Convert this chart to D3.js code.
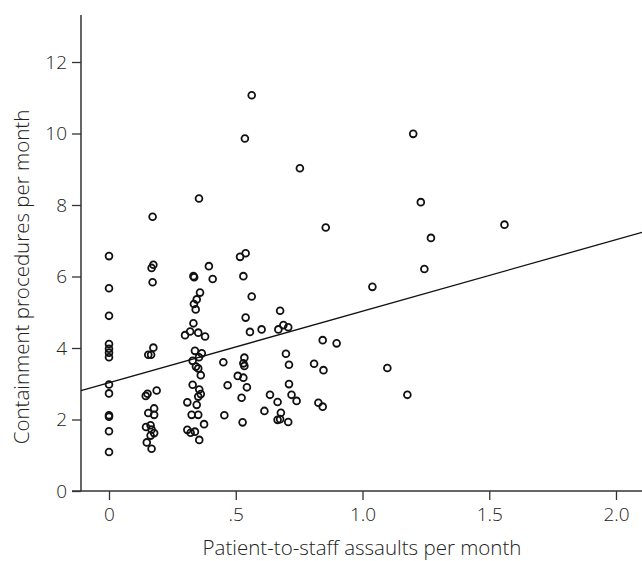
<!DOCTYPE html>
<html>
<head>
<meta charset="utf-8">
<script src="https://cdn.jsdelivr.net/npm/d3@7"></script>
<style>
  body { margin: 0; background: #fff; }
  svg text { font-family: "Open Sans", "Noto Sans", sans-serif; font-weight: 300; fill: #222; }
</style>
</head>
<body>
<script>
// assaults per month (x) and containment procedures per month (y), one pair per ward-month
const assaults = [
    0, 0, 0, 0, 0, 0, 0, 0, 0, 0, 0, 0, 0,
    0.172, 0.175, 0.168, 0.172, 0.155, 0.166, 0.175, 0.145, 0.152, 0.188,
    0.178, 0.155, 0.178, 0.146, 0.164, 0.168, 0.178, 0.164, 0.149, 0.168,
    0.355, 0.333, 0.336, 0.394, 0.409, 0.359, 0.346, 0.335, 0.342, 0.333,
    0.300, 0.320, 0.352, 0.379, 0.339, 0.366, 0.355, 0.330, 0.343, 0.352, 0.362,
    0.330, 0.356, 0.362, 0.352, 0.309, 0.346, 0.326, 0.352, 0.375, 0.309, 0.322, 0.339, 0.356,
    0.563, 0.536, 0.753, 0.855, 0.517, 0.539, 0.530, 0.563, 0.675, 0.539,
    0.556, 0.602, 0.668, 0.688, 0.707, 0.843, 0.898, 0.451, 0.534, 0.530,
    0.534, 0.698, 0.710, 0.809, 0.846, 0.508, 0.530, 0.468, 0.544, 0.523,
    0.710, 0.635, 0.665, 0.720, 0.740, 0.826, 0.843, 0.455, 0.527, 0.613,
    0.678, 0.665, 0.675, 0.707,
    1.200, 1.230, 1.560, 1.270, 1.244, 1.039, 1.098, 1.177
];
const procedures = [
    6.57, 5.67, 4.90, 4.11, 3.98, 3.87, 3.74, 2.98, 2.73, 2.12, 2.08, 1.67, 1.09,
    7.67, 6.33, 6.24, 5.84, 3.81, 3.81, 4.01, 2.66, 2.72, 2.81,
    2.31, 2.18, 2.13, 1.79, 1.84, 1.72, 1.62, 1.55, 1.36, 1.18,
    8.18, 6.01, 5.98, 6.29, 5.93, 5.55, 5.36, 5.23, 5.08, 4.69,
    4.36, 4.46, 4.43, 4.32, 3.92, 3.85, 3.74, 3.64, 3.48, 3.43, 3.24,
    2.97, 2.84, 2.71, 2.64, 2.48, 2.41, 2.13, 2.13, 1.87, 1.71, 1.63, 1.66, 1.43,
    11.07, 9.86, 9.03, 7.37, 6.55, 6.65, 6.01, 5.44, 5.04, 4.85,
    4.45, 4.52, 4.52, 4.64, 4.58, 4.22, 4.13, 3.60, 3.73, 3.57,
    3.50, 3.84, 3.53, 3.56, 3.38, 3.22, 3.17, 2.96, 2.90, 2.61,
    2.99, 2.69, 2.49, 2.69, 2.52, 2.47, 2.36, 2.12, 1.92, 2.24,
    2.19, 1.99, 2.01, 1.93,
    9.99, 8.08, 7.45, 7.08, 6.21, 5.71, 3.44, 2.69
];

// axis ticks and labels
const xTicks = [0, 0.5, 1, 1.5, 2];
const xTickLabels = ["0", ".5", "1.0", "1.5", "2.0"];
const yTicks = [0, 2, 4, 6, 8, 10, 12];

// fitted regression line: intercept and slope
const fitIntercept = 3.03;
const fitSlope = 2.0;

const w = 642, h = 561;

const svg = d3.select("body")
    .append("svg")
    .attr("width", w)
    .attr("height", h);

//scales
const x = d3.scaleLinear()
    .domain([0, 2])
    .range([109, 616]);

const y = d3.scaleLinear()
    .domain([0, 12])
    .range([491, 62]);

const axisColor = "#333";

//y axis
const yAxis = d3.axisLeft(y)
    .tickValues(yTicks)
    .tickFormat(d3.format("d"))
    .tickSize(9)
    .tickPadding(5);

const gy = svg.append("g")
    .attr("transform", "translate(81,0)")
    .call(yAxis);
gy.select(".domain").remove();
gy.selectAll("line").attr("stroke", axisColor).attr("stroke-width", 1.3);
gy.selectAll("text").style("font-size", "19px").attr("fill", "#222");

//x axis
const xAxis = d3.axisBottom(x)
    .tickValues(xTicks)
    .tickFormat((d, i) => xTickLabels[i])
    .tickSize(9)
    .tickPadding(8);

const gx = svg.append("g")
    .attr("transform", "translate(0,491)")
    .call(xAxis);
gx.select(".domain").remove();
gx.selectAll("line").attr("stroke", axisColor).attr("stroke-width", 1.3);
gx.selectAll("text").style("font-size", "19px").attr("fill", "#222");

//axis lines
svg.append("line")
    .attr("x1", 81).attr("x2", 81)
    .attr("y1", 491).attr("y2", 15)
    .attr("stroke", axisColor)
    .attr("stroke-width", 1.5);

svg.append("line")
    .attr("x1", 72).attr("x2", w)
    .attr("y1", 491).attr("y2", 491)
    .attr("stroke", axisColor)
    .attr("stroke-width", 1.5);

//regression line across the plot
const xLo = x.invert(81), xHi = x.invert(w);
svg.append("line")
    .attr("x1", x(xLo)).attr("y1", y(fitIntercept + fitSlope * xLo))
    .attr("x2", x(xHi)).attr("y2", y(fitIntercept + fitSlope * xHi))
    .attr("stroke", "#111")
    .attr("stroke-width", 1.3);

//points
svg.selectAll(".pt")
    .data(assaults)
    .enter()
    .append("circle")
    .attr("class", "pt")
    .attr("cx", d => x(d))
    .attr("cy", (d, i) => y(procedures[i]))
    .attr("r", 3.4)
    .attr("fill", "none")
    .attr("stroke", "#111")
    .attr("stroke-width", 1.8);

//axis titles
svg.append("text")
    .attr("text-anchor", "middle")
    .attr("transform", "translate(29,277) rotate(-90)")
    .style("font-size", "20.5px")
    .text("Containment procedures per month");

svg.append("text")
    .attr("text-anchor", "middle")
    .attr("x", 362)
    .attr("y", 555)
    .style("font-size", "20.5px")
    .text("Patient-to-staff assaults per month");
</script>
</body>
</html>
